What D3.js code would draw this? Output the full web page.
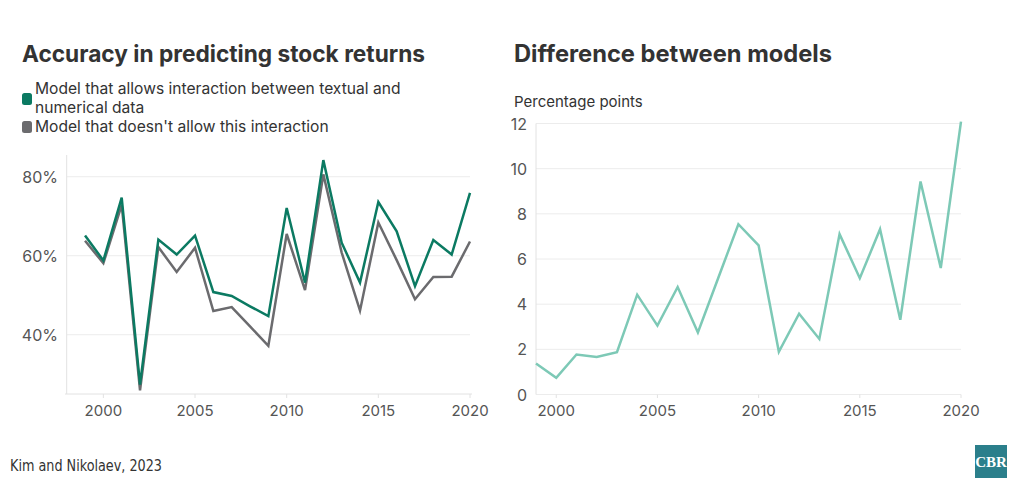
<!DOCTYPE html>
<html><head><meta charset="utf-8">
<script src="https://cdn.jsdelivr.net/npm/d3@7"></script>
<style>
body{margin:0;background:#fff;}
svg{display:block;font-family:"Inter","Open Sans",sans-serif;}
</style></head>
<body><svg id="c" width="1020" height="495"></svg>
<script>
const years = d3.range(1999, 2021);
const interactionModel = [65.1,58.8,74.7,27.4,64.1,60.3,65.1,50.8,49.8,47.2,44.7,72.1,53.2,84.2,63.3,53.2,73.6,66.2,52.3,64.0,60.3,75.9];
const noInteractionModel = [63.8,58.1,72.9,25.9,62.2,55.9,62.0,46.0,47.0,42.1,37.2,65.5,51.3,80.6,60.8,46.1,68.4,58.9,49.0,54.6,54.7,63.6];
const difference = [1.37,0.74,1.77,1.66,1.87,4.42,3.05,4.76,2.75,5.15,7.54,6.6,1.89,3.58,2.46,7.1,5.15,7.32,3.31,9.43,5.6,12.08];
const leftYTicks = [40,60,80];
const rightYTicks = [0,2,4,6,8,10,12];
const xTicks = [2000,2005,2010,2015,2020];

const svg = d3.select("#c");
const txt = "#333", tickCol = "#555", grid = "#ececec", axisCol = "#e2e2e2";

// Titles
svg.append("text").attr("x",22).attr("y",62).attr("font-size",22.7).attr("font-weight",700).attr("fill",txt).text("Accuracy in predicting stock returns");
svg.append("text").attr("x",514).attr("y",62).attr("font-size",23.7).attr("font-weight",700).attr("fill",txt).text("Difference between models");

// Legend
const leg = [
  {lines:["Model that allows interaction between textual and","numerical data"], color:"#0b7a62", y:94},
  {lines:["Model that doesn't allow this interaction"], color:"#6b6b6e", y:132}
];
leg.forEach(l=>{
  const sy = l.lines.length>1 ? l.y-1 : l.y-11;
  svg.append("rect").attr("x",22).attr("y",sy).attr("width",10).attr("height",12).attr("rx",2.5).attr("fill",l.color);
  l.lines.forEach((t,i)=>svg.append("text").attr("x",35).attr("y",l.y+i*19).attr("font-size",15.6).attr("fill",txt).text(t));
});

// Left chart
const xL = d3.scaleLinear().domain([1998,2020]).range([66.7,470]);
const yL = d3.scaleLinear().domain([25,85.5]).range([394,155]);
const gL = svg.append("g");
gL.selectAll(".g").data(leftYTicks).join("line").attr("x1",66.7).attr("x2",470).attr("y1",d=>yL(d)).attr("y2",d=>yL(d)).attr("stroke",grid);
gL.append("line").attr("x1",66.7).attr("x2",66.7).attr("y1",155).attr("y2",394).attr("stroke",axisCol);
gL.append("line").attr("x1",65).attr("x2",472).attr("y1",394).attr("y2",394).attr("stroke",axisCol);
gL.selectAll(".yt").data(leftYTicks).join("text").attr("x",58).attr("y",d=>yL(d)+6).attr("text-anchor","end").attr("font-size",16).attr("fill",tickCol).text(d=>d+"%");
gL.selectAll(".xtk").data(xTicks).join("line").attr("x1",d=>xL(d)).attr("x2",d=>xL(d)).attr("y1",394).attr("y2",398).attr("stroke",axisCol);
gL.selectAll(".xt").data(xTicks).join("text").attr("x",d=>xL(d)).attr("y",416).attr("text-anchor","middle").attr("font-size",15).attr("fill",tickCol).text(d=>d);
const lineL = d3.line().x((d,i)=>xL(years[i])).y(d=>yL(d));
gL.append("path").attr("d",lineL(noInteractionModel)).attr("fill","none").attr("stroke","#6b6b6e").attr("stroke-width",2.5).attr("stroke-linejoin","miter");
gL.append("path").attr("d",lineL(interactionModel)).attr("fill","none").attr("stroke","#0b7a62").attr("stroke-width",2.5).attr("stroke-linejoin","miter");

// Right chart
svg.append("text").attr("x",514).attr("y",107).attr("font-size",15).attr("fill",txt).text("Percentage points");
const xR = d3.scaleLinear().domain([1999,2020]).range([536,961]);
const yR = d3.scaleLinear().domain([0,12]).range([394.5,123.5]);
const gR = svg.append("g");
gR.selectAll(".g").data(rightYTicks).join("line").attr("x1",536).attr("x2",961).attr("y1",d=>yR(d)).attr("y2",d=>yR(d)).attr("stroke",grid);
gR.append("line").attr("x1",536).attr("x2",536).attr("y1",123.5).attr("y2",394.5).attr("stroke",axisCol);
gR.selectAll(".yt").data(rightYTicks).join("text").attr("x",527).attr("y",d=>yR(d)+6).attr("text-anchor","end").attr("font-size",16).attr("fill",tickCol).text(d=>d);
gR.selectAll(".xtk").data(xTicks).join("line").attr("x1",d=>xR(d)).attr("x2",d=>xR(d)).attr("y1",394.5).attr("y2",398).attr("stroke",axisCol);
gR.selectAll(".xt").data(xTicks).join("text").attr("x",d=>xR(d)).attr("y",416).attr("text-anchor","middle").attr("font-size",15).attr("fill",tickCol).text(d=>d);
const lineR = d3.line().x((d,i)=>xR(years[i])).y(d=>yR(d));
gR.append("path").attr("d",lineR(difference)).attr("fill","none").attr("stroke","#7dc9b6").attr("stroke-width",2.5);

// Footer
svg.append("text").attr("x",10).attr("y",471).attr("font-size",15.5).attr("textLength",152).attr("lengthAdjust","spacingAndGlyphs").attr("font-family","'Liberation Sans Narrow','DejaVu Sans Condensed','Liberation Sans',sans-serif").attr("fill",txt).text("Kim and Nikolaev, 2023");
svg.append("rect").attr("x",975).attr("y",445).attr("width",32).attr("height",33).attr("fill","#2b7f8b");
svg.append("text").attr("x",991).attr("y",467).attr("text-anchor","middle").attr("font-size",15).attr("font-weight",700).attr("font-family","'Liberation Serif',serif").attr("fill","#fff").text("CBR");
</script></body></html>
